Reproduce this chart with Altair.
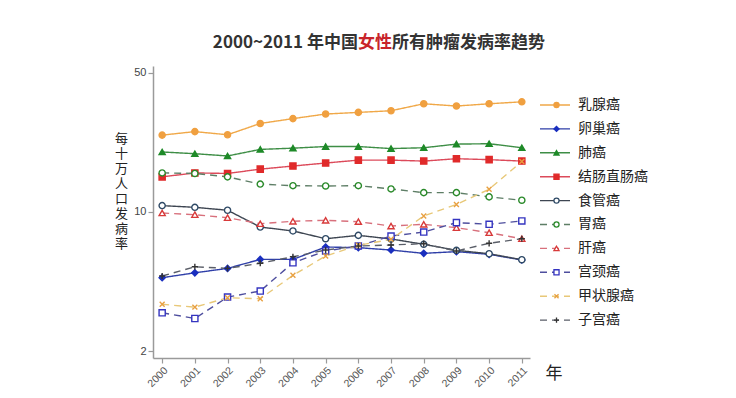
import altair as alt
import pandas as pd

years = list(range(2000, 2012))
series_names = ["乳腺癌", "卵巢癌", "肺癌", "结肠直肠癌", "食管癌", "胃癌", "肝癌", "宫颈癌", "甲状腺癌", "子宫癌"]

breast = [24.3, 25.3, 24.4, 27.8, 29.4, 31.0, 31.6, 32.2, 34.9, 34.0, 34.9, 35.7]
ovary = [4.68, 4.95, 5.21, 5.78, 5.78, 6.67, 6.62, 6.44, 6.2, 6.32, 6.13, 5.74]
lung = [20.0, 19.6, 19.1, 20.6, 20.9, 21.3, 21.3, 20.8, 21.0, 21.9, 22.0, 21.0]
colorectal = [15.0, 15.7, 15.6, 16.4, 17.0, 17.6, 18.2, 18.2, 18.0, 18.5, 18.3, 18.0]
esophagus = [10.76, 10.55, 10.2, 8.4, 8.03, 7.34, 7.63, 7.32, 6.88, 6.42, 6.17, 5.76]
stomach = [15.7, 15.6, 15.0, 13.8, 13.55, 13.5, 13.55, 13.05, 12.5, 12.5, 11.9, 11.45]
liver = [9.88, 9.69, 9.36, 8.73, 8.98, 9.08, 8.94, 8.5, 8.67, 8.34, 7.87, 7.34]
cervix = [3.12, 2.92, 3.74, 4.01, 5.56, 6.37, 6.75, 7.57, 7.93, 8.84, 8.67, 9.01]
thyroid = [3.44, 3.33, 3.71, 3.67, 4.81, 6.01, 6.8, 7.29, 9.55, 10.9, 13.0, 17.9]
uterus = [4.77, 5.31, 5.21, 5.53, 5.96, 6.44, 6.75, 6.83, 6.93, 6.37, 6.96, 7.34]

all_values = [breast, ovary, lung, colorectal, esophagus, stomach, liver, cervix, thyroid, uterus]

y_ticks = [2, 10, 50]
y_title = list("每十万人口发病率")
title_left = "2000~2011 年中国"
title_red = "女性"
title_right = "所有肿瘤发病率趋势"

# styles
line_colors = ["#F0A848", "#2F3FA8", "#3E8E46", "#DC4A5A", "#3E4652",
               "#5E7E66", "#D8707C", "#4E4E9E", "#E8C878", "#5A5E68"]
marker_colors = ["#F0A040", "#1A2FBF", "#1E8A28", "#E02A2A", "#2F4A66",
                 "#2A8A2A", "#D83A3A", "#3434C0", "#E8A040", "#333333"]
dash_list = [[1, 0], [1, 0], [1, 0], [1, 0], [1, 0],
             [7, 5], [7, 5], [7, 5], [7, 5], [7, 5]]
x_path = "M-0.8,-0.8L0.8,0.8M-0.8,0.8L0.8,-0.8"
plus_path = "M-1,0L1,0M0,-1L0,1"
shape_list = ["circle", "diamond", "triangle-up", "square", "circle",
              "circle", "triangle-up", "square", x_path, plus_path]
fill_list = ["#F0A040", "#1A2FBF", "#1E8A28", "#E02A2A", "#FFFFFF",
             "#FFFFFF", "#FFFFFF", "#FFFFFF", "transparent", "transparent"]

rows = []
for name, vals in zip(series_names, all_values):
    for yr, v in zip(years, vals):
        rows.append({"series": name, "year": yr, "rate": v})
df = pd.DataFrame(rows)

FONT = "Liberation Sans"
CJK = "Noto Sans CJK SC"

color_enc = alt.Color("series:N", scale=alt.Scale(domain=series_names, range=line_colors), legend=None)
dash_enc = alt.StrokeDash("series:N", scale=alt.Scale(domain=series_names, range=dash_list), legend=None)
shape_enc = alt.Shape("series:N", scale=alt.Scale(domain=series_names, range=shape_list), legend=None)
stroke_enc = alt.Stroke("series:N", scale=alt.Scale(domain=series_names, range=marker_colors), legend=None)
fill_enc = alt.Fill("series:N", scale=alt.Scale(domain=series_names, range=fill_list), legend=None)

x_enc = alt.X(
    "year:Q",
    scale=alt.Scale(domain=[1999.72, 2011.25], nice=False, zero=False),
    axis=alt.Axis(values=years, format="d", labelAngle=-45, labelFontSize=10.5,
                  labelColor="#555555", labelFont=FONT, grid=False,
                  domainColor="#9A9A9A", domainWidth=1.5, tickColor="#9A9A9A",
                  tickSize=5, tickWidth=1.2,
                  title="年", titleFont=CJK, titleFontSize=17, titleFontWeight="normal",
                  titleColor="#222222", titleX=392, titleY=15,
                  titleAlign="left", titleBaseline="middle"),
)
y_enc = alt.Y(
    "rate:Q",
    scale=alt.Scale(type="log", domain=[1.85, 54], nice=False),
    axis=alt.Axis(values=y_ticks, format="d", labelFontSize=11, labelColor="#444444",
                  labelFont=FONT, grid=False, domainColor="#9A9A9A", domainWidth=1.5,
                  tickColor="#9A9A9A", tickSize=5, tickWidth=1.2, labelPadding=2,
                  title=y_title, titleFont=CJK, titleFontSize=13, titleFontWeight="normal",
                  titleColor="#222222", titleAngle=0, titleX=-32, titleY=66,
                  titleAlign="center", titleBaseline="top", titleLineHeight=15),
)

lines = alt.Chart(df).mark_line(strokeWidth=1.4).encode(
    x=x_enc, y=y_enc, color=color_enc, strokeDash=dash_enc, detail="series:N"
)
points = alt.Chart(df).mark_point(size=38, strokeWidth=1.4, opacity=1, filled=True).encode(
    x=x_enc, y=y_enc, shape=shape_enc, stroke=stroke_enc, fill=fill_enc
)

tdf = pd.DataFrame({"a": [title_left], "b": [title_red], "c": [title_right]})
t1 = alt.Chart(tdf).mark_text(align="right", baseline="middle", font=CJK, fontSize=17,
                              fontWeight="bold", color="#333333").encode(
    text="a:N", x=alt.value(205), y=alt.value(-23))
t2 = alt.Chart(tdf).mark_text(align="left", baseline="middle", font=CJK, fontSize=17,
                              fontWeight="bold", color="#C8242A").encode(
    text="b:N", x=alt.value(205), y=alt.value(-23))
t3 = alt.Chart(tdf).mark_text(align="left", baseline="middle", font=CJK, fontSize=17,
                              fontWeight="bold", color="#333333").encode(
    text="c:N", x=alt.value(239), y=alt.value(-23))

main = alt.layer(lines, points, t1, t2, t3).properties(width=377, height=292)

# legend panel
leg_df = pd.DataFrame({"series": series_names, "idx": list(range(len(series_names))),
                       "x0": [0.0] * 10, "x1": [1.0] * 10, "xm": [0.55] * 10, "xt": [1.27] * 10})
leg_x_scale = alt.Scale(domain=[0, 5], nice=False, zero=False)
leg_y = alt.Y("idx:Q", scale=alt.Scale(domain=[-1.632, 10.586], reverse=True, nice=False, zero=False), axis=None)

leg_rule = alt.Chart(leg_df).mark_rule(strokeWidth=1.4).encode(
    x=alt.X("x0:Q", scale=leg_x_scale, axis=None), x2="x1:Q", y=leg_y,
    color=color_enc, strokeDash=dash_enc)
leg_pt = alt.Chart(leg_df).mark_point(size=26, strokeWidth=1.3, opacity=1, filled=True).encode(
    x=alt.X("xm:Q", scale=leg_x_scale, axis=None), y=leg_y,
    shape=shape_enc, stroke=stroke_enc, fill=fill_enc)
leg_txt = alt.Chart(leg_df).mark_text(align="left", baseline="middle", font=CJK, fontSize=14,
                                      color="#222222").encode(
    x=alt.X("xt:Q", scale=leg_x_scale, axis=None), y=leg_y, text="series:N")

legend = alt.layer(leg_rule, leg_pt, leg_txt).properties(width=150, height=292)

chart = alt.hconcat(main, legend, spacing=10, bounds="flush").resolve_scale(
    color="shared", strokeDash="shared", shape="shared", stroke="shared", fill="shared"
).properties(
    padding={"left": 106, "top": 26, "right": 0, "bottom": 0}
).configure(
    background="#FFFFFF", view=alt.ViewConfig(stroke=None, strokeWidth=0)
)

chart.save("out.html", embed_options={"renderer": "svg", "actions": False})
